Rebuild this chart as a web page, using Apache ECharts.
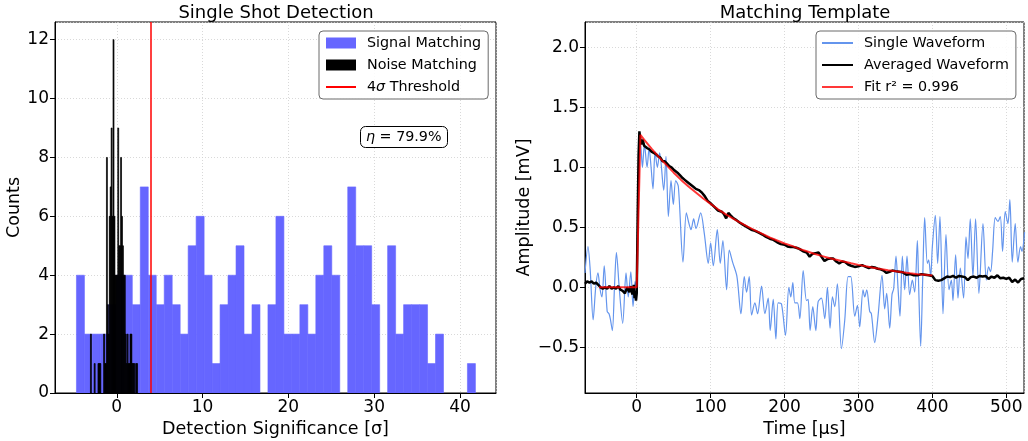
<!DOCTYPE html>
<html><head><meta charset="utf-8">
<script src="https://cdn.jsdelivr.net/npm/echarts@6/dist/echarts.min.js"></script>
<style>html,body{margin:0;padding:0;background:#fff}#c{width:1028px;height:441px}</style>
</head><body><div id="c"></div>
<script>
// ---------- Left panel: histogram data ----------
const signalStart = -4.7, signalWidth = 0.93;
const signalCounts = [4,2,2,2,3,4,4,3,7,4, 3,4,3,2,5,6,4,1,3,4, 5,2,3,0,3,6,2,2,3,2, 4,5,4,0,7,5,5,3,0,5, 2,3,3,3,1,2,0,0,0,1];
const noiseStart = -3.07, noiseWidth = 0.1098;
const noiseCounts = [2,0,0,0,1,0,0,0,1,1, 1,0,0,0,2,1,1,8,3,2, 6,7,9,6,12,6,4,4,4,9, 5,5,8,6,5,4,4,2,1,2, 1,1,2,2,1,1,1,0,1,1];
const threshold = 4;
const efficiencyText = '79.9%';

// ---------- Right panel: waveforms [time µs, amplitude mV] ----------
const singleWave = [
[-70,0.12],[-66,0.34],[-63,0.15],[-59,-0.27],[-55.5,0.0],[-52.5,0.12],[-49.5,-0.02],[-47,-0.08],[-44,0.18],[-40,-0.2],
[-37.5,-0.22],[-35.5,-0.27],[-33,-0.36],[-30,0.02],[-27.5,0.29],[-23.5,-0.02],[-19,-0.3],[-14.5,0.12],[-11.5,-0.08],[-8,0.13],
[-5,-0.16],[-2.3,0.05],[-0.5,-0.02],[1.5,0.55],[3.5,1.15],[5,1.2],[7.7,1.0],[10.4,1.19],[14,1.0],[16.7,1.16],
[19.4,1.0],[22,0.82],[24.8,1.13],[27.9,1.0],[31,1.12],[36.5,0.81],[39.6,1.09],[42.8,0.59],[46.4,0.89],[49.5,0.69],
[52.7,0.89],[56.3,0.84],[62.6,0.21],[67.1,0.62],[70.7,0.53],[73.4,0.48],[77,0.57],[80.2,0.49],[86.5,0.62],[91.4,0.45],
[96.8,0.2],[100,0.37],[103.6,0.18],[109,0.48],[113,0.2],[116.6,0.39],[121.6,-0.02],[125.2,0.31],[129.7,0.21],[135.6,0.09],
[141,-0.22],[145.5,0.09],[148.6,-0.04],[152.2,0.09],[155.4,-0.23],[159.9,-0.13],[163.5,-0.22],[168.9,0.01],[173.4,-0.22],[177.9,-0.09],
[180.6,-0.36],[184.7,-0.1],[188.3,-0.43],[191.4,-0.13],[195.9,-0.14],[201.3,-0.4],[205.8,0.0],[208.5,-0.08],[211.2,0.04],[214,-0.13],
[217.5,-0.13],[220.7,-0.26],[225.2,0.14],[229.7,-0.11],[231.9,-0.1],[234.6,-0.36],[238.2,-0.16],[242.3,-0.36],[245.4,-0.12],[249.9,-0.09],
[254.4,-0.26],[258,0.0],[261.6,-0.34],[264.8,-0.08],[268,-0.16],[271.5,0.03],[277,-0.51],[281.5,-0.27],[286,0.09],[289.6,0.09],
[295,-0.24],[298.6,-0.15],[301.7,-0.33],[306.2,-0.02],[308.5,-0.08],[311.2,-0.02],[315.2,-0.2],[317.5,-0.22],[322,-0.46],[326.5,-0.24],
[331.9,0.1],[335.5,-0.18],[338.2,-0.05],[342.3,-0.34],[345.4,-0.06],[347.7,-0.01],[350.8,0.26],[353.5,0.0],[356.2,-0.24],[359.4,0.26],
[362.6,-0.02],[365.7,0.26],[369.3,-0.06],[372.9,0.06],[376.1,-0.04],[379.7,0.39],[381.5,0.0],[384.2,-0.49],[386.9,0.06],[389.6,0.58],
[393.2,0.2],[395,0.23],[397.7,0.09],[400,0.34],[404,0.6],[407.2,0.2],[410.3,0.59],[414.4,-0.22],[418.4,0.44],[422.5,-0.02],
[425.7,0.06],[427.9,-0.11],[431.5,0.27],[434.7,-0.09],[437.8,0.16],[442.3,-0.09],[445.5,0.42],[448.2,0.24],[451.3,0.57],[454.9,0.09],
[458.5,0.57],[463,-0.05],[468.5,0.53],[473,0.06],[476.1,0.17],[478.8,0.13],[481.5,0.3],[485.1,0.58],[488.7,0.55],[491.9,0.59],
[495,0.3],[498.6,0.63],[502.2,0.53],[504.9,0.73],[508.1,0.21],[512.1,0.53],[515.7,0.21],[519.3,0.34],[521.2,0.3],[524.8,0.46]
];
const avgWave = [
[-70,0.03],[-67,0.05],[-64,0.04],[-61,0.05],[-58,0.03],[-55,0.04],[-52,0.02],[-49,0.0],[-46,-0.01],[-43,0.0],
[-40,-0.01],[-37,0.01],[-34,-0.01],[-31,0.0],[-28,-0.01],[-25,0.01],[-22,-0.02],[-19,-0.03],[-16,-0.05],[-13,0.0],
[-10,-0.04],[-8,0.01],[-6,-0.06],[-4,0.02],[-3,-0.09],[-2,-0.03],[-1,-0.11],[0,-0.05],[1.3,0.6],[2.5,1.1],
[3.6,1.3],[5,1.22],[6,1.19],[8,1.23],[10,1.18],[12,1.19],[14,1.16],[17,1.15],[20,1.13],[23,1.12],
[26,1.11],[29,1.09],[32,1.08],[35,1.05],[38,1.05],[41,1.03],[44,1.01],[47,1.0],[50,0.98],[53,0.965],
[56,0.95],[59,0.93],[62,0.91],[65,0.895],[68,0.88],[71,0.865],[74,0.85],[77,0.835],[80,0.82],[84,0.81],
[88,0.79],[92,0.76],[96,0.72],[100,0.70],[105,0.67],[110,0.64],[115,0.63],[118,0.61],[121,0.575],[124,0.62],
[127,0.60],[131,0.575],[135,0.56],[139,0.54],[143,0.525],[147,0.51],[151,0.495],[155,0.48],[160,0.47],[165,0.455],
[170,0.44],[175,0.42],[180,0.405],[185,0.395],[190,0.375],[195,0.36],[200,0.355],[204,0.34],[208,0.335],[212,0.335],
[216,0.33],[220,0.32],[225,0.30],[230,0.29],[234,0.255],[238,0.28],[242,0.285],[246,0.29],[250,0.255],[254,0.22],
[258,0.235],[262,0.24],[266,0.24],[270,0.215],[274,0.20],[278,0.215],[282,0.21],[286,0.19],[290,0.18],[295,0.17],
[300,0.175],[305,0.185],[310,0.17],[314,0.16],[318,0.17],[322,0.165],[326,0.155],[330,0.15],[334,0.14],[338,0.12],
[342,0.13],[346,0.14],[350,0.135],[355,0.13],[360,0.125],[365,0.105],[370,0.11],[375,0.10],[380,0.10],[385,0.11],
[390,0.105],[395,0.10],[400,0.095],[404,0.06],[408,0.055],[412,0.06],[416,0.075],[420,0.09],[424,0.085],[428,0.095],
[432,0.08],[436,0.095],[440,0.09],[444,0.085],[448,0.06],[452,0.085],[456,0.09],[460,0.08],[464,0.095],[468,0.09],
[472,0.095],[476,0.07],[480,0.09],[484,0.08],[488,0.1],[492,0.075],[496,0.08],[500,0.07],[504,0.08],[508,0.045],
[512,0.065],[516,0.04],[520,0.07],[524,0.075]
];
const fitWave = [
[-51,0],[0,0],[5,1.27],[10,1.23],[20,1.155],[30,1.085],[40,1.02],[50,0.955],[60,0.895],[70,0.84],
[80,0.79],[90,0.74],[100,0.695],[110,0.65],[120,0.61],[130,0.575],[140,0.54],[150,0.505],[160,0.475],[170,0.445],
[180,0.415],[190,0.39],[200,0.365],[210,0.345],[220,0.32],[230,0.30],[240,0.28],[250,0.262],[260,0.245],[270,0.23],
[280,0.215],[290,0.2],[300,0.187],[310,0.175],[320,0.164],[330,0.153],[340,0.143],[350,0.134],[360,0.125],[370,0.117],
[380,0.11],[390,0.104],[400,0.098]
];
const fitLabel = 'Fit r\u00b2 = 0.996';

// ---------- build ----------
const FONT = 'DejaVu Sans';
const signalBins = signalCounts.map((c, i) => [signalStart + i * signalWidth, signalStart + (i + 1) * signalWidth, c]);
const noiseBins = noiseCounts.map((c, i) => [noiseStart + i * noiseWidth, noiseStart + (i + 1) * noiseWidth, c]);

function histRender(strokeW) {
  return function (params, api) {
    const c = api.value(2);
    if (!c) return null;
    const a = api.coord([api.value(0), c]);
    const b = api.coord([api.value(1), 0]);
    const col = api.visual('color');
    return { type: 'rect', shape: { x: a[0], y: a[1], width: b[0] - a[0], height: b[1] - a[1] },
             style: { fill: col, stroke: col, lineWidth: strokeW } };
  };
}
const minus = v => String(v).replace('-', '\u2212');

function axis(opts) {
  const base = {
    type: 'value',
    nameLocation: 'middle',
    nameTextStyle: { fontSize: 17.5, color: '#000', fontFamily: FONT },
    axisLine: { show: true, onZero: false, lineStyle: { color: '#000', width: 1 } },
    axisTick: { show: true, inside: false, length: 5, lineStyle: { color: '#000', width: 1 } },
    axisLabel: { fontSize: 17, color: '#000', fontFamily: FONT, margin: 6, showMinLabel: false, showMaxLabel: false },
    splitLine: { show: true, lineStyle: { type: [1, 2], color: '#cfcfcf', width: 0.8 } }
  };
  const out = Object.assign({}, base, opts);
  out.axisLabel = Object.assign({}, base.axisLabel, opts.axisLabel || {});
  return out;
}

const legendText = { fontSize: 14.3, color: '#000', fontFamily: FONT, padding: [0, 0, 0, 6],
  rich: { i: { fontSize: 14.3, fontStyle: 'italic', fontFamily: FONT, color: '#000' } } };
const hideSymbol = { opacity: 0, borderWidth: 0 };

const option = {
  animation: false,
  backgroundColor: '#fff',
  textStyle: { fontFamily: FONT },
  title: [
    { text: 'Single Shot Detection', left: 271, top: -1, textAlign: 'center',
      textStyle: { fontSize: 18, fontWeight: 'normal', color: '#000', fontFamily: FONT } },
    { text: 'Matching Template', left: 800, top: -1, textAlign: 'center',
      textStyle: { fontSize: 18, fontWeight: 'normal', color: '#000', fontFamily: FONT } },
    { text: '{i|\u03b7} = ' + efficiencyText, left: 360, top: 126, padding: [4, 6, 4, 6],
      borderColor: '#000', borderWidth: 1, borderRadius: 5, backgroundColor: '#fff',
      textStyle: { fontSize: 14.3, fontWeight: 'normal', color: '#000', fontFamily: FONT,
        rich: { i: { fontSize: 14.3, fontStyle: 'italic', color: '#000', fontFamily: FONT } } } }
  ],
  grid: [
    { left: 55, top: 22, width: 441, height: 371, show: true, borderColor: '#000', borderWidth: 1, backgroundColor: 'transparent', outerBoundsMode: 'none' },
    { left: 585, top: 22, width: 439, height: 371, show: true, borderColor: '#000', borderWidth: 1, backgroundColor: 'transparent', outerBoundsMode: 'none' }
  ],
  xAxis: [
    axis({ gridIndex: 0, min: -7.2, max: 44.2, name: 'Detection Significance [\u03c3]', nameGap: 25 }),
    axis({ gridIndex: 1, min: -70, max: 524, name: 'Time [\u00b5s]', nameGap: 25 })
  ],
  yAxis: [
    axis({ gridIndex: 0, min: 0, max: 12.6, interval: 2, name: 'Counts', nameGap: 25, nameRotate: 90,
      axisLabel: { showMinLabel: true } }),
    axis({ gridIndex: 1, min: -0.88, max: 2.21, name: 'Amplitude [mV]', nameGap: 48, nameRotate: 90,
      axisLabel: { formatter: v => minus(v.toFixed(1)) } })
  ],
  legend: [
    { orient: 'vertical', left: 319, top: 31, itemWidth: 30, itemHeight: 11, itemGap: 8,
      padding: [5, 7, 5, 6], borderColor: '#444', borderWidth: 0.8, borderRadius: 4,
      backgroundColor: 'rgba(255,255,255,0.85)', textStyle: legendText,
      formatter: n => n.replace('4\u03c3', '4{i|\u03c3}'),
      data: [{ name: 'Signal Matching', icon: 'rect' }, { name: 'Noise Matching', icon: 'rect' },
             { name: '4\u03c3 Threshold', itemStyle: hideSymbol }] },
    { orient: 'vertical', left: 816, top: 31, itemWidth: 31, itemHeight: 11, itemGap: 8,
      padding: [5, 7, 5, 5], borderColor: '#444', borderWidth: 0.8, borderRadius: 4,
      backgroundColor: 'rgba(255,255,255,0.85)', textStyle: legendText,
      data: [{ name: 'Single Waveform', itemStyle: hideSymbol }, { name: 'Averaged Waveform', itemStyle: hideSymbol },
             { name: fitLabel, itemStyle: hideSymbol }] }
  ],
  series: [
    { name: 'Signal Matching', type: 'custom', xAxisIndex: 0, yAxisIndex: 0, renderItem: histRender(0.6),
      encode: { x: [0, 1], y: 2 }, data: signalBins, itemStyle: { color: '#6666ff' }, clip: true, z: 1 },
    { name: 'Noise Matching', type: 'custom', xAxisIndex: 0, yAxisIndex: 0, renderItem: histRender(0.7),
      encode: { x: [0, 1], y: 2 }, data: noiseBins, itemStyle: { color: '#000' }, clip: true, z: 2 },
    { name: '4\u03c3 Threshold', type: 'line', xAxisIndex: 0, yAxisIndex: 0, data: [], symbol: 'none',
      itemStyle: { color: '#ff0000' }, lineStyle: { color: '#ff0000', width: 1.5 }, z: 3,
      markLine: { silent: true, symbol: ['none', 'none'], label: { show: false },
        lineStyle: { color: '#ff0000', width: 1.5, type: 'solid' }, data: [{ xAxis: threshold }] } },
    { name: 'Single Waveform', type: 'line', xAxisIndex: 1, yAxisIndex: 1, data: singleWave, symbol: 'none',
      smooth: 0.3, itemStyle: { color: '#6495ED' }, lineStyle: { color: '#6495ED', width: 1.2 }, z: 2 },
    { name: 'Averaged Waveform', type: 'line', xAxisIndex: 1, yAxisIndex: 1, data: avgWave, symbol: 'none',
      itemStyle: { color: '#000' }, lineStyle: { color: '#000', width: 2.5 }, z: 3 },
    { name: fitLabel, type: 'line', xAxisIndex: 1, yAxisIndex: 1, data: fitWave, symbol: 'none',
      itemStyle: { color: 'rgba(255,0,0,0.78)' }, lineStyle: { color: 'rgba(255,0,0,0.78)', width: 2 }, z: 4 }
  ]
};
echarts.init(document.getElementById('c'), null, { renderer: 'canvas' }).setOption(option);
</script>
</body></html>
